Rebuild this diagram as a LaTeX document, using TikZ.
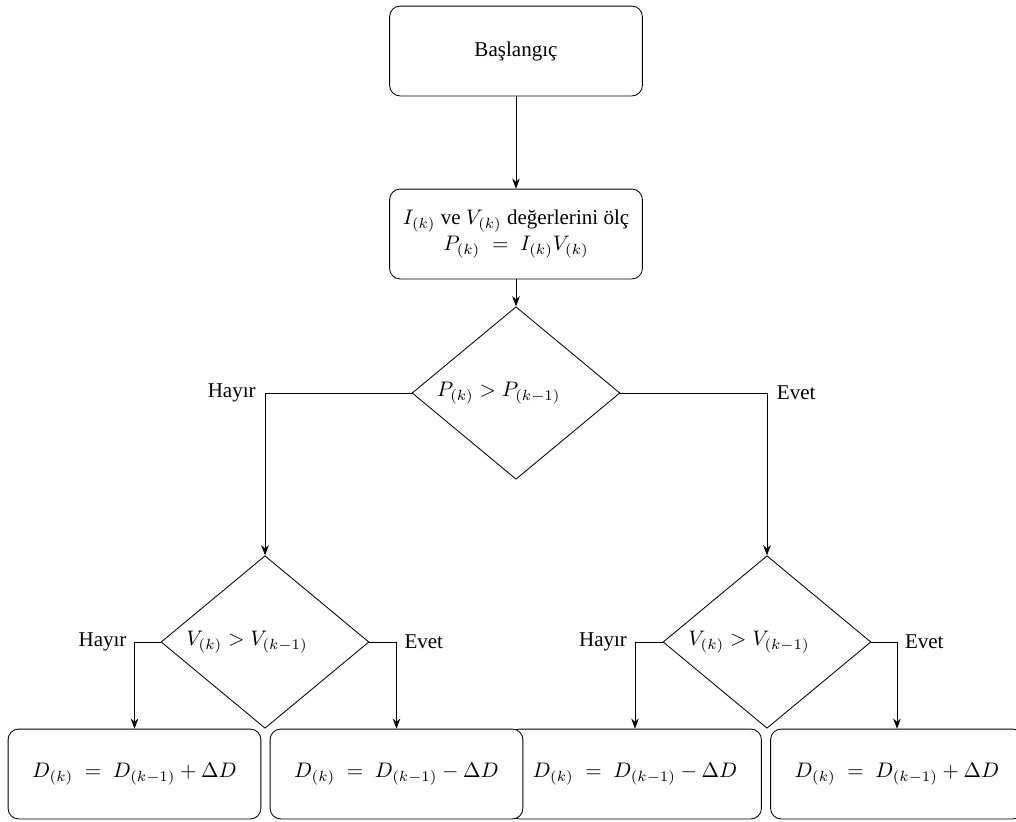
\documentclass[tikz,border=0pt]{standalone}
\usepackage{amsmath,amssymb}
\usepackage[no-math]{fontspec}
\setmainfont{Liberation Serif}
\usepackage{tikz}
\usetikzlibrary{arrows.meta,positioning,shapes.geometric}
\tikzset{
  >=Stealth,
  box/.style ={rectangle,rounded corners=5pt,draw,fill=white,align=center,
               minimum width=4.22cm,minimum height=1.5cm,inner sep=2pt},
  cond/.style={diamond,draw,fill=white,aspect=1.2,inner sep=0pt,
               minimum width=3.47cm,minimum height=2.88cm},
  ar/.style ={->,black},
  lbl/.style={inner sep=3.6pt},
}
\newcommand{\kk}[1]{#1_{(k)}}
\newcommand{\km}[1]{#1_{(k-1)}}

\begin{document}
\begin{tikzpicture}[x=0.0167cm,y=-0.0167cm]
\useasboundingbox (0,0) rectangle (1016,821);
% top of the chart
\node[box] (start)   at (516,51)  {Başlangıç};
\node[box] (measure) at (516,234) {$\kk{I}$ ve $\kk{V}$ değerlerini ölç\\
                                   $\kk{P}\;=\;\kk{I}\kk{V}$};
\node[cond,label={[xshift=-0.29cm]center:$\kk{P}>\km{P}$}] (dP) at (516,393) {};
\draw[ar] (start) -- (measure);
\draw[ar] (measure) -- (dP);
% second level
\node[cond,label={[xshift=-0.3cm]center:$\kk{V}>\km{V}$}] (dVl) at (265,642) {};
\node[cond,label={[xshift=-0.3cm]center:$\kk{V}>\km{V}$}] (dVr) at (767,642) {};
\draw[ar] (dP.west) -| node[pos=0.5,lbl,left,inner sep=4.2pt]{Hayır} (dVl.north);
\draw[ar] (dP.east) -| node[pos=0.5,lbl,right,inner sep=4.5pt]{Evet} (dVr.north);
% results
\node[box] (incl) at (134.5,774) {$\kk{D}\;=\;\km{D}+\Delta D$};
\node[box] (decr) at (635,774)   {$\kk{D}\;=\;\km{D}-\Delta D$};
\node[box] (decl) at (396.5,774) {$\kk{D}\;=\;\km{D}-\Delta D$};
\node[box] (incr) at (897,774)   {$\kk{D}\;=\;\km{D}+\Delta D$};
\draw[ar] (dVl.west) -| node[pos=0.5,lbl,left]{Hayır} (incl.north);
\draw[ar] (dVl.east) -| node[pos=0.5,lbl,right]{Evet} (decl.north);
\draw[ar] (dVr.west) -| node[pos=0.5,lbl,left]{Hayır} (decr.north);
\draw[ar] (dVr.east) -| node[pos=0.5,lbl,right]{Evet} (incr.north);
\end{tikzpicture}
\end{document}
